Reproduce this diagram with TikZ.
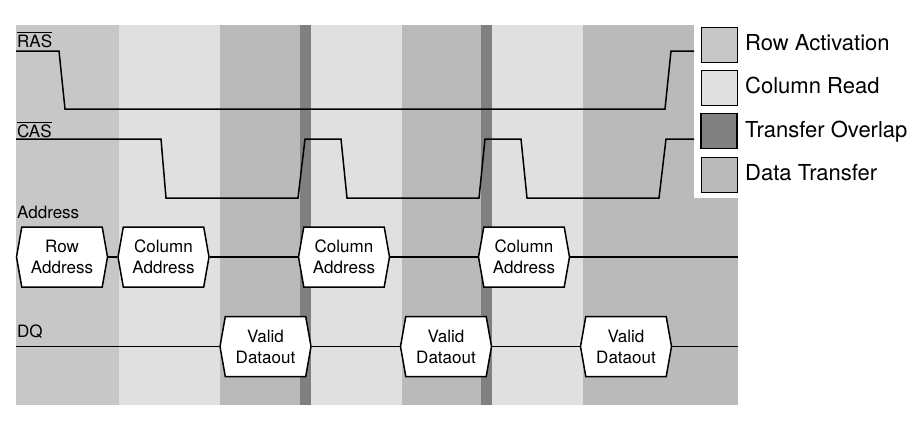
\documentclass[tikz,border=0pt]{standalone}
\usepackage{amsmath}
\usepackage{fontspec}
\setmainfont{TeX Gyre Heros}
\usetikzlibrary{shapes.symbols}
\definecolor{rowgray}{gray}{0.78}
\definecolor{colgray}{gray}{0.88}
\definecolor{datgray}{gray}{0.73}
\definecolor{ovlgray}{gray}{0.5}
\tikzstyle{wave} = [black, line width=1.5bp, line join=miter]
\tikzstyle{busbox} = [draw=black, fill=white, line width=1.5bp, shape=signal,
    signal to=west and east, signal pointer angle=160, minimum width=91bp,
    minimum height=60bp, inner sep=0pt, align=center,
    font=\fontsize{17bp}{21bp}\selectfont]
\tikzstyle{signame} = [anchor=base west, inner sep=0pt, font=\fontsize{17bp}{20bp}\selectfont]
\tikzstyle{swatch} = [draw=black, line width=0.8bp, minimum width=36bp,
    minimum height=35bp, inner sep=0pt]
\tikzstyle{legtext} = [anchor=base west, inner sep=0pt, font=\fontsize{22bp}{26bp}\selectfont]

\begin{document}
\begin{tikzpicture}[x=1bp,y=-1bp]
                \useasboundingbox (0,0) rectangle (922,422);
                \fill[white] (0,0) rectangle (922,422);
                \fill[rowgray] (16,25) rectangle (119,405);
                \fill[colgray] (119,25) rectangle (220,405);
                \fill[datgray] (220,25) rectangle (300,405);
                \fill[ovlgray] (300,25) rectangle (311,405);
                \fill[colgray] (311,25) rectangle (402,405);
                \fill[datgray] (402,25) rectangle (481,405);
                \fill[ovlgray] (481,25) rectangle (492,405);
                \fill[colgray] (492,25) rectangle (583,405);
                \fill[datgray] (583,25) rectangle (738,405);
                \fill[white] (694,25) rectangle (738,198);

                \node[signame] (rasname) at (17,47) {$\overline{\text{RAS}}$};
                \node[signame] (casname) at (17,137) {$\overline{\text{CAS}}$};
                \node[signame] (addrname) at (17,218) {Address};
                \node[signame] (dqname) at (17,337) {DQ};

                \draw[wave] (16,51) -- (59,51) -- (65,109) -- (665,109) -- (671,51) -- (694,51);
                \draw[wave] (16,139) -- (161,139) -- (166,198) -- (298,198) -- (305,139)
                    -- (341,139) -- (347,198) -- (479,198) -- (485,139)
                    -- (521,139) -- (527,198) -- (659,198) -- (666,139) -- (694,139);

                \node[busbox] (rowaddr) at (62,257) {Row\\Address};
                \node[busbox] (coladdr1) at (163.5,257) {Column\\Address};
                \node[busbox] (coladdr2) at (344,257) {Column\\Address};
                \node[busbox] (coladdr3) at (524,257) {Column\\Address};
                \coordinate (addrend) at (738,257);
                \draw[wave] (rowaddr.east) -- (coladdr1.west);
                \draw[wave] (coladdr1.east) -- (coladdr2.west);
                \draw[wave] (coladdr2.east) -- (coladdr3.west);
                \draw[wave] (coladdr3.east) -- (addrend);

                \node[busbox] (data1) at (265.5,346.5) {Valid\\Dataout};
                \node[busbox] (data2) at (446,346.5) {Valid\\Dataout};
                \node[busbox] (data3) at (626,346.5) {Valid\\Dataout};
                \coordinate (dqstart) at (16,346.5);
                \coordinate (dqend) at (738,346.5);
                \draw[wave] (dqstart) -- (data1.west);
                \draw[wave] (data1.east) -- (data2.west);
                \draw[wave] (data2.east) -- (data3.west);
                \draw[wave] (data3.east) -- (dqend);

                \node[swatch, fill=rowgray] (swrow) at (719,44.5) {};
                \node[swatch, fill=colgray] (swcol) at (719,88) {};
                \node[swatch, fill=ovlgray, line width=1.8bp] (swovl) at (719,131) {};
                \node[swatch, fill=datgray] (swdat) at (719,174.5) {};
                \node[legtext] (txrow) at (745,50) {Row Activation};
                \node[legtext] (txcol) at (745,93) {Column Read};
                \node[legtext] (txovl) at (745,137) {Transfer Overlap};
                \node[legtext] (txdat) at (745,180) {Data Transfer};
            \end{tikzpicture}
\end{document}
